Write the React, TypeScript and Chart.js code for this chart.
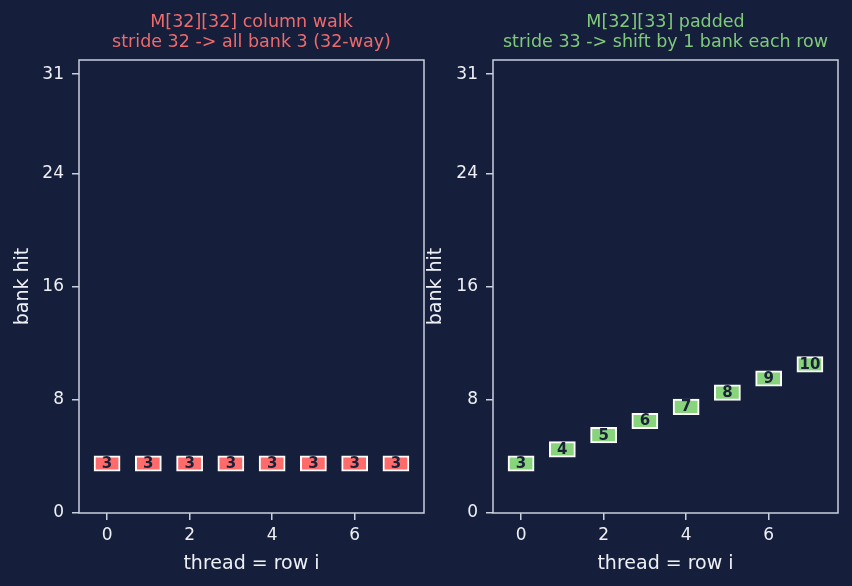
import React, { useEffect, useRef } from "react";
import { Chart, registerables } from "chart.js";
Chart.register(...registerables);

// ---- data ----
const threads = [0, 1, 2, 3, 4, 5, 6, 7];
const banksUnpadded = [3, 3, 3, 3, 3, 3, 3, 3];
const banksPadded = [3, 4, 5, 6, 7, 8, 9, 10];
const yTickValues = [0, 8, 16, 24, 31];
const xTickValues = [0, 2, 4, 6];
const leftTitle = ["M[32][32] column walk", "stride 32 -> all bank 3 (32-way)"];
const rightTitle = ["M[32][33] padded", "stride 33 -> shift by 1 bank each row"];
const xLabel = "thread = row i";
const yLabel = "bank hit";

// ---- style ----
const BG = "#151f3b";
const SPINE = "#c9d0de";
const TEXT = "#eef0f5";
const RED = "#ff6b6b";
const RED_TITLE = "#ef6a6c";
const GREEN = "#88d47c";
const GREEN_TITLE = "#80c97a";
const FONT = "'DejaVu Sans', sans-serif";
const W = 852;
const H = 586;

type PanelCfg = {
  banks: number[];
  fill: string;
  title: string[];
  titleColor: string;
  padLeft: number;
  padRight: number;
  yWidth: number;
  yTitlePad: number;
};

function makeChart(canvas: HTMLCanvasElement, cfg: PanelCfg) {
  const panelPlugin = {
    id: "panelDeco",
    afterDatasetsDraw(chart: any) {
      const ctx = chart.ctx;
      const meta = chart.getDatasetMeta(0);
      ctx.save();
      ctx.fillStyle = "#1b2138";
      ctx.font = `bold 15px ${FONT}`;
      ctx.textAlign = "center";
      ctx.textBaseline = "middle";
      meta.data.forEach((el: any, i: number) => {
        const cy = (el.y + el.base) / 2;
        ctx.fillText(String(cfg.banks[i]), el.x, cy + 0.5);
      });
      ctx.restore();
    },
    afterDraw(chart: any) {
      const { ctx, chartArea } = chart;
      ctx.save();
      ctx.strokeStyle = SPINE;
      ctx.lineWidth = 1.5;
      ctx.strokeRect(chartArea.left, chartArea.top, chartArea.right - chartArea.left, chartArea.bottom - chartArea.top);
      const cx = (chartArea.left + chartArea.right) / 2;
      ctx.fillStyle = cfg.titleColor;
      ctx.font = `17.5px ${FONT}`;
      ctx.textAlign = "center";
      ctx.textBaseline = "middle";
      ctx.fillText(cfg.title[0], cx, 22.5);
      ctx.fillText(cfg.title[1], cx, 42.5);
      ctx.restore();
    },
  };

  return new Chart(canvas, {
    type: "bar",
    data: {
      datasets: [
        {
          data: threads.map((t, i) => ({ x: t, y: [cfg.banks[i], cfg.banks[i] + 1] })) as any,
          backgroundColor: cfg.fill,
          borderColor: "#ffffff",
          borderWidth: 2,
          borderSkipped: false,
          inflateAmount: 1,
          barPercentage: 0.6,
          categoryPercentage: 1,
        } as any,
      ],
    },
    options: {
      responsive: false,
      animation: false,
      devicePixelRatio: 1,
      layout: { padding: { top: 60, bottom: 0, left: cfg.padLeft, right: cfg.padRight } },
      plugins: { legend: { display: false }, tooltip: { enabled: false }, title: { display: false } },
      scales: {
        x: {
          type: "linear",
          offset: false,
          min: -0.68,
          max: 7.68,
          afterBuildTicks: (s: any) => {
            s.ticks = xTickValues.map((v) => ({ value: v }));
          },
          afterFit: (s: any) => {
            s.height = 73;
          },
          grid: { offset: false, drawOnChartArea: false, drawTicks: true, tickLength: 7, color: SPINE, lineWidth: 1.5 },
          border: { display: false },
          ticks: { color: TEXT, font: { family: FONT, size: 17 }, padding: 5, maxRotation: 0, autoSkip: false },
          title: {
            display: true,
            text: xLabel,
            color: TEXT,
            font: { family: FONT, size: 19, lineHeight: 1 },
            padding: { top: 0, bottom: 12 },
          },
        },
        y: {
          type: "linear",
          min: 0,
          max: 32,
          afterBuildTicks: (s: any) => {
            s.ticks = yTickValues.map((v) => ({ value: v }));
          },
          afterFit: (s: any) => {
            s.width = cfg.yWidth;
          },
          grid: { drawOnChartArea: false, drawTicks: true, tickLength: 7, color: SPINE, lineWidth: 1.5 },
          border: { display: false },
          ticks: { color: TEXT, font: { family: FONT, size: 17 }, padding: 8, autoSkip: false },
          title: {
            display: true,
            text: yLabel,
            color: TEXT,
            font: { family: FONT, size: 19, lineHeight: 1 },
            padding: { top: cfg.yTitlePad, bottom: 0 },
          },
        },
      },
    },
    plugins: [panelPlugin],
  } as any);
}

export default function App() {
  const leftRef = useRef<HTMLCanvasElement>(null);
  const rightRef = useRef<HTMLCanvasElement>(null);

  useEffect(() => {
    const a = makeChart(leftRef.current!, {
      banks: banksUnpadded,
      fill: RED,
      title: leftTitle,
      titleColor: RED_TITLE,
      padLeft: 0,
      padRight: W - 424,
      yWidth: 79,
      yTitlePad: 13.5,
    });
    const b = makeChart(rightRef.current!, {
      banks: banksPadded,
      fill: GREEN,
      title: rightTitle,
      titleColor: GREEN_TITLE,
      padLeft: 426,
      padRight: W - 838,
      yWidth: 67,
      yTitlePad: 1,
    });
    return () => {
      a.destroy();
      b.destroy();
    };
  }, []);

  return (
    <div style={{ position: "fixed", left: 0, top: 0, width: W, height: H, background: BG }}>
      <canvas ref={leftRef} width={W} height={H} style={{ position: "absolute", left: 0, top: 0 }} />
      <canvas ref={rightRef} width={W} height={H} style={{ position: "absolute", left: 0, top: 0 }} />
    </div>
  );
}
